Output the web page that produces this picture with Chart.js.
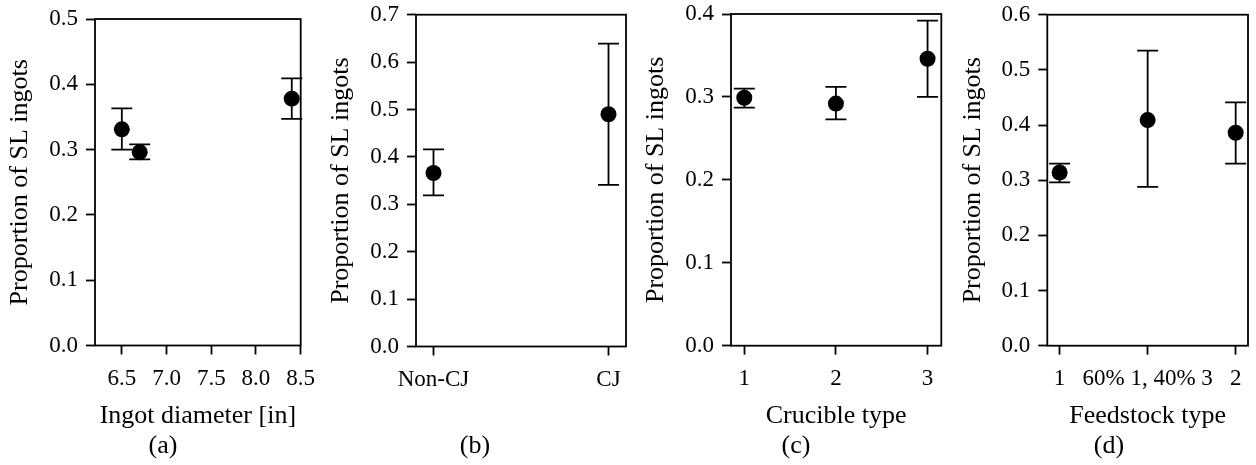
<!DOCTYPE html>
<html>
<head>
<meta charset="utf-8">
<script src="https://cdn.jsdelivr.net/npm/chart.js@4.4.0/dist/chart.umd.min.js"></script>
<style>
html, body { margin: 0; padding: 0; background: #fff; }
#wrap { position: relative; width: 1256px; height: 465px; }
#wrap canvas { position: absolute; left: 0; top: 0; }
</style>
</head>
<body>
<div id="wrap">
  <canvas id="pa" width="1256" height="465"></canvas>
  <canvas id="pb" width="1256" height="465"></canvas>
  <canvas id="pc" width="1256" height="465"></canvas>
  <canvas id="pd" width="1256" height="465"></canvas>
</div>
<script>
// (a) ingot diameter
var diameterX = [6.5, 6.7, 8.4];
var diameterY = [0.331, 0.296, 0.378];
var diameterLo = [0.300, 0.285, 0.347];
var diameterHi = [0.363, 0.308, 0.409];
var diameterTicks = [6.5, 7.0, 7.5, 8.0, 8.5];

// (b) CJ
var jointLabels = ['Non-CJ', 'CJ'];
var jointY = [0.366, 0.490];
var jointLo = [0.319, 0.341];
var jointHi = [0.416, 0.639];

// (c) crucible type
var crucibleLabels = ['1', '2', '3'];
var crucibleY = [0.299, 0.292, 0.346];
var crucibleLo = [0.287, 0.273, 0.300];
var crucibleHi = [0.310, 0.312, 0.392];

// (d) feedstock type
var feedLabels = ['1', '60% 1, 40% 3', '2'];
var feedY = [0.314, 0.409, 0.386];
var feedLo = [0.296, 0.288, 0.330];
var feedHi = [0.330, 0.535, 0.441];

var yTitle = 'Proportion of SL ingots';
var FONT = 'Liberation Serif, Times New Roman, serif';
var W = 1256, H = 465, YAXIS_W = 90;
var LW = 1.8;

var errorBars = {
    id: 'errorBars',
    afterDatasetsDraw: function (chart) {
        var ctx = chart.ctx;
        var xs = chart.scales.x, ys = chart.scales.y;
        chart.data.datasets.forEach(function (ds) {
            ctx.save();
            ctx.strokeStyle = '#000';
            ctx.lineWidth = LW;
            ds.data.forEach(function (p, i) {
                var x = xs.getPixelForValue(p.x);
                var y1 = ys.getPixelForValue(ds.errLo[i]);
                var y2 = ys.getPixelForValue(ds.errHi[i]);
                ctx.beginPath();
                ctx.moveTo(x, y1); ctx.lineTo(x, y2);
                ctx.moveTo(x - 10.5, y1); ctx.lineTo(x + 10.5, y1);
                ctx.moveTo(x - 10.5, y2); ctx.lineTo(x + 10.5, y2);
                ctx.stroke();
            });
            ctx.restore();
        });
    }
};

var frame = {
    id: 'frame',
    afterDraw: function (chart, args, opts) {
        var a = chart.chartArea, ctx = chart.ctx;
        ctx.save();
        ctx.strokeStyle = '#000';
        ctx.lineWidth = LW;
        ctx.strokeRect(a.left, a.top, a.right - a.left, a.bottom - a.top);
        ctx.fillStyle = '#000';
        ctx.font = '26px ' + FONT;
        ctx.textAlign = 'center';
        ctx.textBaseline = 'middle';
        ctx.fillText(opts.tag, opts.tagX, 446);
        ctx.restore();
    }
};

function makePanel(id, p) {
    var points = p.xs.map(function (x, i) { return { x: x, y: p.ys[i] }; });
    var config = {
        type: 'scatter',
        data: {
            datasets: [{
                data: points,
                errLo: p.lo,
                errHi: p.hi,
                pointRadius: 8,
                pointHoverRadius: 8,
                backgroundColor: '#000',
                borderColor: '#000',
                borderWidth: 0
            }]
        },
        plugins: [errorBars, frame],
        options: {
            responsive: false,
            animation: false,
            layout: {
                padding: { left: p.area.left - YAXIS_W, right: W - p.area.right, top: p.area.top, bottom: 0 }
            },
            plugins: {
                legend: { display: false },
                tooltip: { enabled: false },
                frame: { tag: p.tag, tagX: p.tagX }
            },
            scales: {
                x: {
                    type: 'linear',
                    min: p.xMin,
                    max: p.xMax,
                    afterBuildTicks: function (scale) {
                        scale.ticks = p.tickVals.map(function (v) { return { value: v }; });
                    },
                    afterFit: function (scale) {
                        scale.height = H - p.area.bottom;
                        scale.paddingLeft = 0;
                        scale.paddingRight = 0;
                    },
                    border: { display: false },
                    grid: {
                        drawOnChartArea: false,
                        drawTicks: true,
                        tickLength: 9,
                        tickColor: '#000',
                        tickWidth: LW,
                        color: '#000'
                    },
                    ticks: {
                        autoSkip: false,
                        maxRotation: 0,
                        minRotation: 0,
                        padding: 10.5,
                        color: '#000',
                        font: { family: FONT, size: 23 },
                        callback: function (v, i) { return p.tickText[i]; }
                    },
                    title: {
                        display: !!p.xTitle,
                        text: p.xTitle,
                        color: '#000',
                        font: { family: FONT, size: 26 },
                        padding: { top: 0, bottom: 33 }
                    }
                },
                y: {
                    min: 0,
                    max: p.yMax,
                    afterFit: function (scale) {
                        scale.width = YAXIS_W;
                        scale.paddingTop = 0;
                        scale.paddingBottom = 0;
                    },
                    border: { display: false },
                    grid: {
                        drawOnChartArea: false,
                        drawTicks: true,
                        tickLength: 9,
                        tickColor: '#000',
                        tickWidth: LW,
                        color: '#000'
                    },
                    ticks: {
                        stepSize: 0.1,
                        padding: 8,
                        color: '#000',
                        font: { family: FONT, size: 23 },
                        callback: function (v) { return v.toFixed(1); }
                    },
                    title: {
                        display: true,
                        text: yTitle,
                        color: '#000',
                        font: { family: FONT, size: 26 },
                        padding: { top: 0, bottom: 0 }
                    }
                }
            }
        }
    };
    return new Chart(document.getElementById(id).getContext('2d'), config);
}

var idx2 = [0, 1], idx3 = [1, 2, 3];

makePanel('pa', {
    xs: diameterX, ys: diameterY, lo: diameterLo, hi: diameterHi,
    xMin: 6.2, xMax: 8.5, yMax: 0.5,
    tickVals: diameterTicks,
    tickText: diameterTicks.map(function (v) { return v.toFixed(1); }),
    xTitle: 'Ingot diameter [in]',
    tag: '(a)', tagX: 163,
    area: { left: 95, right: 300.7, top: 19, bottom: 345.5 }
});

makePanel('pb', {
    xs: idx2, ys: jointY, lo: jointLo, hi: jointHi,
    xMin: -0.1, xMax: 1.1, yMax: 0.7,
    tickVals: idx2,
    tickText: jointLabels,
    xTitle: '',
    tag: '(b)', tagX: 475,
    area: { left: 416, right: 626, top: 14.7, bottom: 346.5 }
});

makePanel('pc', {
    xs: idx3, ys: crucibleY, lo: crucibleLo, hi: crucibleHi,
    xMin: 0.855, xMax: 3.15, yMax: 0.4,
    tickVals: idx3,
    tickText: crucibleLabels,
    xTitle: 'Crucible type',
    tag: '(c)', tagX: 796,
    area: { left: 731, right: 941.3, top: 14, bottom: 345.7 }
});

makePanel('pd', {
    xs: idx3, ys: feedY, lo: feedLo, hi: feedHi,
    xMin: 0.86, xMax: 3.14, yMax: 0.6,
    tickVals: idx3,
    tickText: feedLabels,
    xTitle: 'Feedstock type',
    tag: '(d)', tagX: 1109,
    area: { left: 1047.3, right: 1254.3, top: 14.7, bottom: 345.7 }
});
</script>
</body>
</html>
